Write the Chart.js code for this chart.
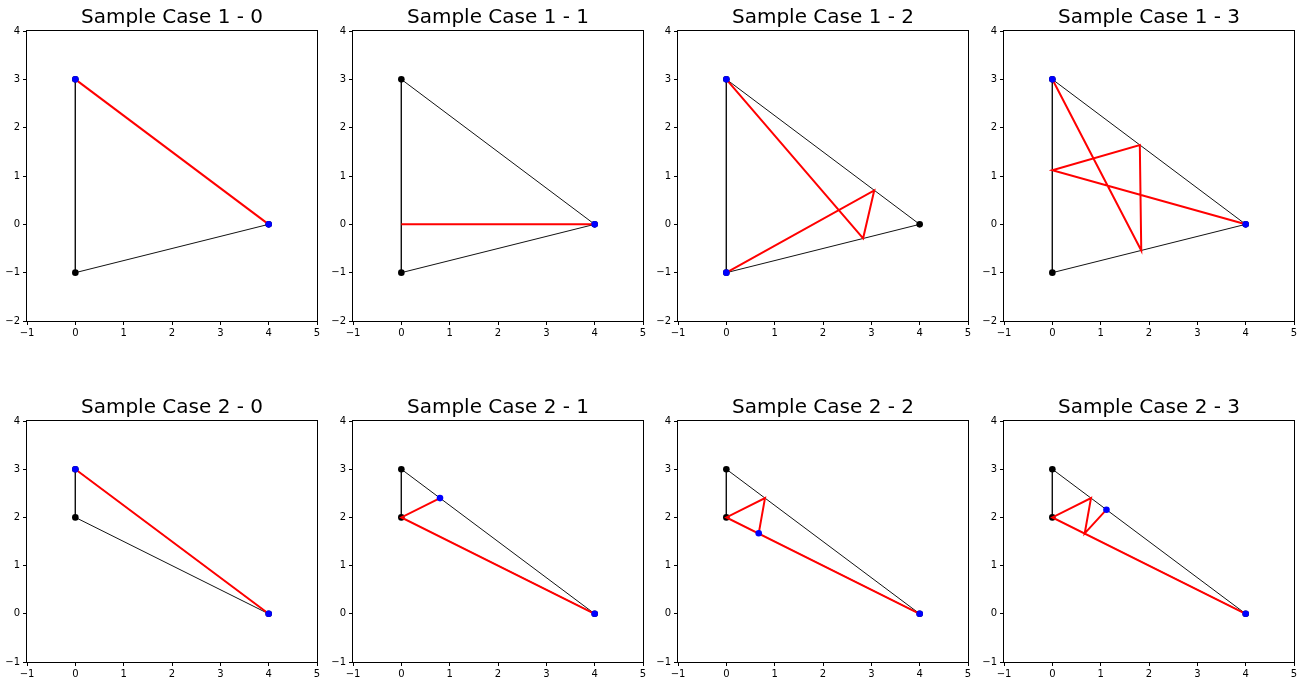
<!DOCTYPE html>
<html>
<head>
<meta charset="utf-8">
<script src="https://cdn.jsdelivr.net/npm/chart.js@4.4.0/dist/chart.umd.min.js"></script>
<style>
  body { margin: 0; background: #fff; width: 1306px; height: 684px; overflow: hidden; }
  canvas { position: absolute; }
</style>
</head>
<body>
<script>
/* datos */
const titulos = [
  'Sample Case 1 - 0', 'Sample Case 1 - 1', 'Sample Case 1 - 2', 'Sample Case 1 - 3',
  'Sample Case 2 - 0', 'Sample Case 2 - 1', 'Sample Case 2 - 2', 'Sample Case 2 - 3'
];
const triangulo1 = [[0, 3], [0, -1], [4, 0]];
const triangulo2 = [[0, 3], [0, 2], [4, 0]];

// camino rojo de cada panel
const caminos = [
  [[0, 3], [4, 0]],
  [[0, 0], [4, 0]],
  [[0, 3], [2.83, -0.29], [3.06, 0.7], [0, -1]],
  [[0, 3], [1.84, -0.54], [1.81, 1.64], [0, 1.12], [4, 0]],
  [[0, 3], [4, 0]],
  [[4, 0], [0, 2], [0.8, 2.4]],
  [[4, 0], [0, 2], [0.8, 2.4], [0.67, 1.67]],
  [[4, 0], [0, 2], [0.8, 2.4], [0.67, 1.67], [1.12, 2.16]]
];
// puntos azules
const azules = [
  [[0, 3], [4, 0]],
  [[4, 0]],
  [[0, 3], [0, -1]],
  [[0, 3], [4, 0]],
  [[0, 3], [4, 0]],
  [[0.8, 2.4], [4, 0]],
  [[0.67, 1.67], [4, 0]],
  [[1.12, 2.16], [4, 0]]
];
const ticksX = [-1, 5];
const ticksY1 = [-2, 4];
const ticksY2 = [-1, 4];

/* layout */
const izquierdas = [27, 353, 678, 1004];
const anchoArea = 290;
const arriba = [31, 421];
const altoArea = [290, 241];

const aPuntos = arr => arr.map(p => ({ x: p[0], y: p[1] }));
const menos = v => String(v).replace('-', '\u2212');

const marco = {
  id: 'marco',
  afterDraw(chart) {
    const a = chart.chartArea;
    const c = chart.ctx;
    c.save();
    c.strokeStyle = '#000';
    c.lineWidth = 1;
    c.strokeRect(a.left - 0.5, a.top - 0.5, a.right - a.left + 1, a.bottom - a.top + 1);
    c.restore();
  }
};

titulos.forEach((titulo, i) => {
  const fila = i < 4 ? 0 : 1;
  const col = i % 4;
  const tri = fila === 0 ? triangulo1 : triangulo2;
  const rangoY = fila === 0 ? ticksY1 : ticksY2;

  const canvas = document.createElement('canvas');
  const w = 30 + anchoArea + 30;
  const h = 31 + altoArea[fila] + 22;
  canvas.width = w;
  canvas.height = h;
  canvas.style.left = (izquierdas[col] - 30) + 'px';
  canvas.style.top = (arriba[fila] - 31) + 'px';
  document.body.appendChild(canvas);

  new Chart(canvas.getContext('2d'), {
    type: 'scatter',
    data: {
      datasets: [
        {
          data: aPuntos([...tri, tri[0]]),
          showLine: true,
          borderColor: '#111',
          borderWidth: 1,
          pointRadius: 0,
          order: 4
        },
        {
          data: aPuntos(tri),
          backgroundColor: '#000',
          borderWidth: 0,
          pointRadius: 3.3,
          order: 3
        },
        {
          data: aPuntos(caminos[i]),
          showLine: true,
          borderColor: '#ff0000',
          borderWidth: 2,
          pointRadius: 0,
          order: 2
        },
        {
          data: aPuntos(azules[i]),
          backgroundColor: '#0000ff',
          borderWidth: 0,
          pointRadius: 3.3,
          order: 1
        }
      ]
    },
    options: {
      responsive: false,
      animation: false,
      devicePixelRatio: 1,
      layout: { padding: 0 },
      plugins: {
        legend: { display: false },
        tooltip: { enabled: false },
        title: {
          display: true,
          text: titulo,
          color: '#000',
          font: { family: 'DejaVu Sans', size: 20, weight: 'normal' },
          padding: { top: 6, bottom: 1 }
        }
      },
      scales: {
        x: {
          type: 'linear',
          min: ticksX[0],
          max: ticksX[1],
          ticks: { stepSize: 1, color: '#000', padding: 2, callback: menos, font: { family: 'DejaVu Sans', size: 10 } },
          grid: { drawOnChartArea: false, tickLength: 4, tickColor: '#000' },
          border: { display: false },
          afterFit: s => { s.height = 22; }
        },
        y: {
          type: 'linear',
          min: rangoY[0],
          max: rangoY[1],
          ticks: { stepSize: 1, color: '#000', padding: 3, callback: menos, font: { family: 'DejaVu Sans', size: 10 } },
          grid: { drawOnChartArea: false, tickLength: 4, tickColor: '#000' },
          border: { display: false },
          afterFit: s => { s.width = 30; }
        },
        // eje vacio a la derecha para centrar el titulo sobre el area
        y2: {
          type: 'linear',
          position: 'right',
          min: rangoY[0],
          max: rangoY[1],
          ticks: { display: false },
          grid: { display: false },
          border: { display: false },
          afterFit: s => { s.width = 30; }
        }
      }
    },
    plugins: [marco]
  });
});
</script>
</body>
</html>
